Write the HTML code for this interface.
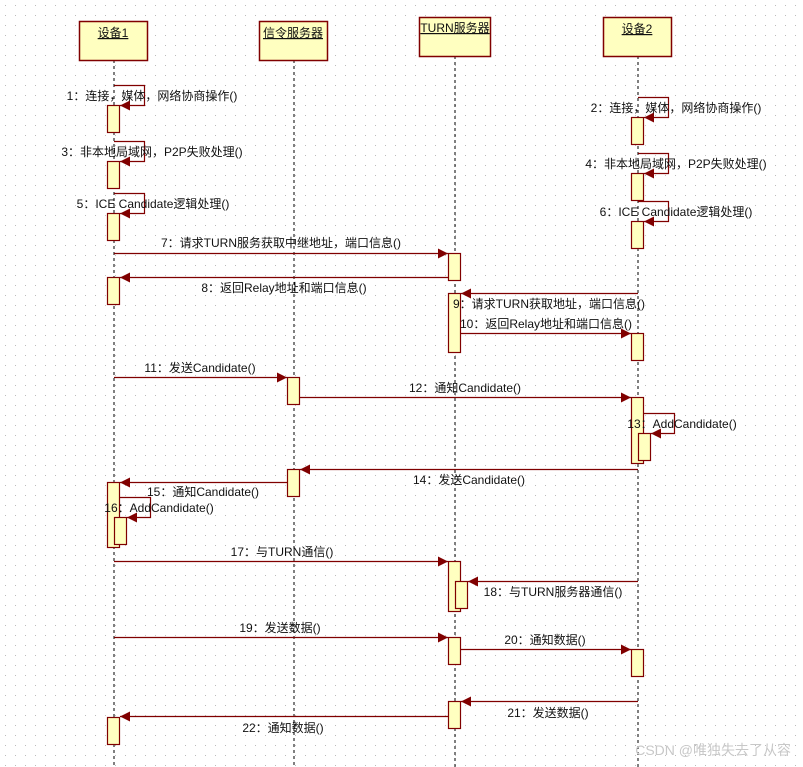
<!DOCTYPE html>
<html><head><meta charset="utf-8"><style>
html,body{margin:0;padding:0;background:#fff;}
svg{display:block;}
text{font-family:"Liberation Sans","Noto Sans CJK SC",sans-serif;font-size:12px;fill:#111;}
.ll{stroke:#000;stroke-width:1;stroke-dasharray:3,3;}
.m{stroke:#800000;stroke-width:1.2;fill:none;}
.a{fill:#ffffc0;stroke:#800000;stroke-width:1.2;}
.h{fill:#ffffc0;stroke:#800000;stroke-width:1.5;}
</style></head><body>
<svg width="803" height="767" xmlns="http://www.w3.org/2000/svg">
<defs>
<pattern id="g" width="10" height="10" patternUnits="userSpaceOnUse"><rect x="5" y="5" width="1" height="1" fill="#bbb"/></pattern>
<marker id="ar" markerWidth="10" markerHeight="10" refX="10" refY="5" orient="auto" markerUnits="userSpaceOnUse"><path d="M0,0 L10,5 L0,10 z" fill="#800000"/></marker>
</defs>
<rect width="803" height="767" fill="url(#g)"/>
<!-- lifelines -->
<line class="ll" x1="114" y1="60" x2="114" y2="767"/>
<line class="ll" x1="294" y1="60" x2="294" y2="767"/>
<line class="ll" x1="455" y1="56" x2="455" y2="767"/>
<line class="ll" x1="638" y1="56" x2="638" y2="767"/>
<!-- headers -->
<rect class="h" x="79.5" y="21.5" width="68" height="39"/>
<text x="113" y="37" text-anchor="middle" text-decoration="underline">设备1</text>
<rect class="h" x="259.5" y="21.5" width="68" height="39"/>
<text x="293" y="37" text-anchor="middle" text-decoration="underline">信令服务器</text>
<rect class="h" x="419.5" y="17.5" width="71" height="39"/>
<text x="455" y="32" text-anchor="middle" text-decoration="underline">TURN服务器</text>
<rect class="h" x="603.5" y="17.5" width="68" height="39"/>
<text x="637" y="33" text-anchor="middle" text-decoration="underline">设备2</text>

<!-- activations -->
<rect class="a" x="107.5" y="105.5" width="12" height="27"/>
<rect class="a" x="107.5" y="161.5" width="12" height="27"/>
<rect class="a" x="107.5" y="213.5" width="12" height="27"/>
<rect class="a" x="631.5" y="117.5" width="12" height="27"/>
<rect class="a" x="631.5" y="173.5" width="12" height="27"/>
<rect class="a" x="631.5" y="221.5" width="12" height="27"/>
<rect class="a" x="448.5" y="253.5" width="12" height="27"/>
<rect class="a" x="107.5" y="277.5" width="12" height="27"/>
<rect class="a" x="448.5" y="293.5" width="12" height="59"/>
<rect class="a" x="631.5" y="333.5" width="12" height="27"/>
<rect class="a" x="287.5" y="377.5" width="12" height="27"/>
<rect class="a" x="631.5" y="397.5" width="12" height="66"/>
<rect class="a" x="638.5" y="433.5" width="12" height="27"/>
<rect class="a" x="287.5" y="469.5" width="12" height="27"/>
<rect class="a" x="107.5" y="482.5" width="12" height="65"/>
<rect class="a" x="114.5" y="517.5" width="12" height="27"/>
<rect class="a" x="448.5" y="561.5" width="12" height="50"/>
<rect class="a" x="455.5" y="581.5" width="12" height="27"/>
<rect class="a" x="448.5" y="637.5" width="12" height="27"/>
<rect class="a" x="631.5" y="649.5" width="12" height="27"/>
<rect class="a" x="448.5" y="701.5" width="12" height="27"/>
<rect class="a" x="107.5" y="717.5" width="12" height="27"/>

<!-- messages -->
<path class="m" d="M114,85.5 H144.5 V105.5 H120" marker-end="url(#ar)"/>
<path class="m" d="M114,141.5 H144.5 V161.5 H120" marker-end="url(#ar)"/>
<path class="m" d="M114,193.5 H144.5 V213.5 H120" marker-end="url(#ar)"/>
<path class="m" d="M638,97.5 H668.5 V117.5 H644" marker-end="url(#ar)"/>
<path class="m" d="M638,153.5 H668.5 V173.5 H644" marker-end="url(#ar)"/>
<path class="m" d="M638,201.5 H668.5 V221.5 H644" marker-end="url(#ar)"/>
<path class="m" d="M114,253.5 H448" marker-end="url(#ar)"/>
<path class="m" d="M448,277.5 H120" marker-end="url(#ar)"/>
<path class="m" d="M638,293.5 H461" marker-end="url(#ar)"/>
<path class="m" d="M461,333.5 H631" marker-end="url(#ar)"/>
<path class="m" d="M114,377.5 H287" marker-end="url(#ar)"/>
<path class="m" d="M300,397.5 H631" marker-end="url(#ar)"/>
<path class="m" d="M644,413.5 H674.5 V433.5 H651" marker-end="url(#ar)"/>
<path class="m" d="M638,469.5 H300" marker-end="url(#ar)"/>
<path class="m" d="M287,482.5 H120" marker-end="url(#ar)"/>
<path class="m" d="M120,497.5 H150.5 V517.5 H127" marker-end="url(#ar)"/>
<path class="m" d="M114,561.5 H448" marker-end="url(#ar)"/>
<path class="m" d="M638,581.5 H468" marker-end="url(#ar)"/>
<path class="m" d="M114,637.5 H448" marker-end="url(#ar)"/>
<path class="m" d="M461,649.5 H631" marker-end="url(#ar)"/>
<path class="m" d="M638,701.5 H461" marker-end="url(#ar)"/>
<path class="m" d="M448,716.5 H120" marker-end="url(#ar)"/>

<!-- labels -->
<text x="152" y="100" text-anchor="middle">1：连接，媒体，网络协商操作()</text>
<text x="152" y="156" text-anchor="middle">3：非本地局域网，P2P失败处理()</text>
<text x="153" y="208" text-anchor="middle">5：ICE Candidate逻辑处理()</text>
<text x="676" y="112" text-anchor="middle">2：连接，媒体，网络协商操作()</text>
<text x="676" y="168" text-anchor="middle">4：非本地局域网，P2P失败处理()</text>
<text x="676" y="216" text-anchor="middle">6：ICE Candidate逻辑处理()</text>
<text x="281" y="247" text-anchor="middle">7：请求TURN服务获取中继地址，端口信息()</text>
<text x="284" y="292" text-anchor="middle">8：返回Relay地址和端口信息()</text>
<text x="549" y="308" text-anchor="middle">9：请求TURN获取地址，端口信息()</text>
<text x="546" y="328" text-anchor="middle">10：返回Relay地址和端口信息()</text>
<text x="200" y="372" text-anchor="middle">11：发送Candidate()</text>
<text x="465" y="392" text-anchor="middle">12：通知Candidate()</text>
<text x="682" y="428" text-anchor="middle">13：AddCandidate()</text>
<text x="469" y="484" text-anchor="middle">14：发送Candidate()</text>
<text x="203" y="496" text-anchor="middle">15：通知Candidate()</text>
<text x="159" y="512" text-anchor="middle">16：AddCandidate()</text>
<text x="282" y="556" text-anchor="middle">17：与TURN通信()</text>
<text x="553" y="596" text-anchor="middle">18：与TURN服务器通信()</text>
<text x="280" y="632" text-anchor="middle">19：发送数据()</text>
<text x="545" y="644" text-anchor="middle">20：通知数据()</text>
<text x="548" y="717" text-anchor="middle">21：发送数据()</text>
<text x="283" y="732" text-anchor="middle">22：通知数据()</text>
<text x="791" y="755" text-anchor="end" style="font-size:14px;fill:#c8c8c8;">CSDN @唯独失去了从容</text>
</svg>
</body></html>
